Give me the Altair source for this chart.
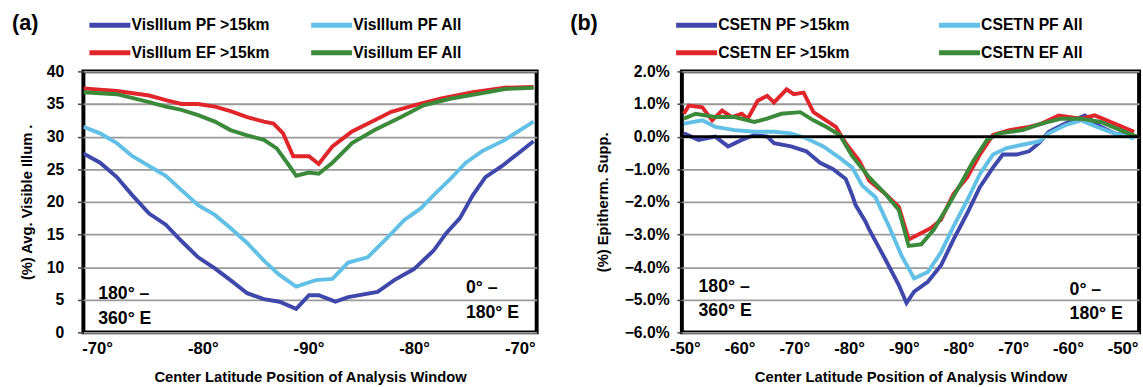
import altair as alt
import pandas as pd

FONT = "Liberation Sans, Arial, sans-serif"

# ---------------- Panel (a) : Visible illumination ----------------
a_series = ["VisIllum PF >15km", "VisIllum PF All", "VisIllum EF >15km", "Visillum  EF All"]
a_colors = ["#3f48aa", "#62c0e6", "#e0262a", "#3a8a3a"]

# x position along analysis window: 0 = -70°, 20 = -90°, 40 = -70° (other hemisphere)
a_pf15_u = [-1.3, 0.28, 1.86, 3.34, 4.92, 6.5, 7.98, 9.56, 11.14, 12.62, 14.2, 15.78, 17.26, 18.84,
            20.05, 20.97, 22.55, 23.76, 26.54, 28.12, 29.98, 31.83, 33.04, 34.34, 35.55, 36.75, 38.33, 39.9, 41.3]
a_pf15_v = [27.4, 26.0, 23.8, 21.0, 18.2, 16.5, 14.0, 11.5, 9.8, 8.0, 6.0, 5.1, 4.7, 3.6,
            5.7, 5.7, 4.7, 5.4, 6.2, 8.0, 9.7, 12.5, 15.2, 17.5, 21.0, 23.8, 25.5, 27.5, 29.3]

a_pfall_u = [-1.3, 0.28, 1.86, 3.34, 4.92, 6.5, 7.98, 9.56, 11.14, 12.62, 14.2, 15.78, 17.26, 18.84,
             20.7, 22.27, 23.76, 25.6, 27.47, 29.05, 30.63, 31.83, 33.41, 34.9, 36.47, 38.6, 41.3]
a_pfall_v = [31.5, 30.5, 29.0, 27.0, 25.5, 24.0, 21.8, 19.5, 18.0, 16.0, 13.7, 11.0, 8.8, 7.0,
             8.0, 8.2, 10.7, 11.5, 14.5, 17.2, 19.0, 21.0, 23.5, 26.0, 27.8, 29.5, 32.3]

a_ef15_u = [-1.3, 1.86, 4.92, 6.5, 7.98, 9.56, 11.14, 12.62, 14.2, 15.78, 16.7, 17.6, 18.56,
            20.05, 20.97, 22.27, 24.13, 26.26, 27.84, 29.98, 32.48, 35.55, 38.6, 41.3]
a_ef15_v = [37.4, 37.0, 36.3, 35.6, 35.0, 35.0, 34.6, 33.9, 33.0, 32.3, 32.0, 30.5, 27.0,
            27.0, 25.8, 28.5, 30.8, 32.5, 33.8, 34.8, 35.8, 36.8, 37.5, 37.6]

a_efall_u = [-1.3, 1.86, 4.92, 6.5, 7.98, 9.56, 11.14, 12.62, 14.2, 15.78, 17.0, 18.2, 18.84,
             20.05, 20.97, 22.27, 24.13, 26.26, 28.77, 30.9, 33.41, 36.2, 38.6, 41.3]
a_efall_v = [36.8, 36.5, 35.3, 34.6, 34.1, 33.3, 32.3, 31.0, 30.2, 29.5, 28.2, 25.5, 24.0,
             24.5, 24.3, 26.0, 29.0, 31.0, 33.0, 34.8, 35.8, 36.6, 37.3, 37.5]

a_note_text = ["180° –\n360° E", "0° –\n180° E"]
a_note_u = [0.1, 34.9]
a_note_v = [5.8, 6.75]

# ---------------- Panel (b) : Epithermal suppression ----------------
b_series = ["CSETN PF >15km", "CSETN PF All", "CSETN EF >15km", "CSETN EF All"]
b_colors = a_colors

# x position: 0 = -50°, 40 = -90°, 80 = -50°
b_pf15_u = [-0.18, 2.5, 5.56, 7.9, 10.4, 12.7, 15.05, 16.3, 19.4, 22.2, 24.7, 27.1, 29.4, 30.6, 31.2,
            33.0, 33.7, 36.6, 39.1, 40.5, 41.9, 44.4, 46.8, 49.1, 51.6, 53.9, 56.3, 58.1, 60.6,
            62.9, 64.7, 66.5, 69.5, 73.1, 76.0, 78.5, 82.1]
b_pf15_v = [0.1, -0.1, 0.0, -0.3, -0.1, 0.05, 0.0, -0.2, -0.3, -0.45, -0.8, -1.0, -1.3, -1.8, -2.1,
            -2.6, -2.85, -3.75, -4.55, -5.1, -4.75, -4.45, -3.95, -3.15, -2.35, -1.55, -0.95, -0.55, -0.55,
            -0.45, -0.2, 0.15, 0.4, 0.65, 0.3, 0.1, 0.0]

b_pfall_u = [-0.18, 3.2, 5.56, 9.1, 12.7, 16.3, 19.4, 22.2, 25.3, 28.3, 30.6, 32.4, 34.8, 37.3, 39.6,
             41.9, 44.4, 46.8, 49.1, 51.6, 53.9, 56.3, 58.8, 61.7, 64.7, 66.5, 69.5, 72.4, 76.0, 78.5, 82.1]
b_pfall_v = [0.4, 0.5, 0.3, 0.2, 0.15, 0.15, 0.1, -0.05, -0.3, -0.65, -0.95, -1.5, -1.85, -2.75, -3.65,
             -4.35, -4.15, -3.55, -2.75, -1.95, -1.15, -0.55, -0.35, -0.25, -0.15, 0.1, 0.35, 0.5, 0.25, 0.1, -0.05]

b_ef15_u = [-0.18, 0.72, 3.2, 5.0, 6.8, 8.6, 10.4, 11.5, 13.3, 15.05, 16.3, 18.6, 19.9, 21.7, 23.5,
            25.8, 27.6, 29.4, 31.9, 33.7, 36.6, 39.1, 40.9, 42.7, 45.0, 46.8, 49.1, 51.6, 53.9, 56.3,
            59.3, 62.9, 65.2, 68.3, 72.4, 74.9, 78.5, 82.1]
b_ef15_v = [0.7, 0.95, 0.9, 0.5, 0.8, 0.6, 0.7, 0.55, 1.1, 1.25, 1.05, 1.45, 1.3, 1.35, 0.75,
            0.5, 0.3, -0.2, -0.75, -1.35, -1.75, -2.15, -3.15, -3.0, -2.8, -2.55, -1.75, -1.25, -0.55, 0.05,
            0.2, 0.3, 0.4, 0.65, 0.55, 0.65, 0.4, 0.15]

b_efall_u = [-0.18, 1.97, 5.56, 9.1, 12.7, 15.05, 17.6, 21.1, 23.5, 25.8, 28.3, 30.6, 33.7, 36.6, 39.1,
             40.9, 43.2, 45.5, 48.0, 50.4, 52.7, 55.2, 57.5, 61.7, 65.2, 68.8, 72.4, 76.0, 79.6, 82.6]
b_efall_v = [0.55, 0.7, 0.6, 0.6, 0.45, 0.55, 0.7, 0.75, 0.5, 0.3, 0.05, -0.6, -1.25, -1.75, -2.25,
             -3.35, -3.3, -2.85, -2.15, -1.45, -0.75, -0.1, 0.1, 0.2, 0.4, 0.55, 0.55, 0.45, 0.2, 0.0]

b_zero_line = [0.0]

b_note_text = ["180° –\n360° E", "0° –\n180° E"]
b_note_u = [2.5, 70.3]
b_note_v = [-4.61, -4.7]


def long_frame(names, us, vs):
    rows = []
    for name, u, v in zip(names, us, vs):
        rows += [{"u": a, "v": b, "s": name} for a, b in zip(u, v)]
    return pd.DataFrame(rows)


a_df = long_frame(a_series, [a_pf15_u, a_pfall_u, a_ef15_u, a_efall_u],
                  [a_pf15_v, a_pfall_v, a_ef15_v, a_efall_v])
b_df = long_frame(b_series, [b_pf15_u, b_pfall_u, b_ef15_u, b_efall_u],
                  [b_pf15_v, b_pfall_v, b_ef15_v, b_efall_v])
a_notes = pd.DataFrame({"u": a_note_u, "v": a_note_v, "t": a_note_text})
b_notes = pd.DataFrame({"u": b_note_u, "v": b_note_v, "t": b_note_text})
b_zero_df = pd.DataFrame({"v": b_zero_line})

LEG_PATH = "M-4.5,0H4.5"


def legend(x, col_pad):
    return alt.Legend(title=None, orient="none", legendX=x, legendY=-55, columns=2, direction="horizontal",
                      symbolType=LEG_PATH, symbolSize=86, symbolStrokeWidth=5,
                      labelFont=FONT, labelFontSize=16, labelFontWeight="bold", labelColor="black",
                      labelOffset=14, columnPadding=col_pad, rowPadding=8, padding=0,
                      labelLimit=300)


xtitle = "Center Latitude Position of Analysis Window"
TITLE = dict(font=FONT, fontSize=22, fontWeight="bold", offset=-18, anchor="start", frame="bounds")

# ---- shared scales / axes for panel (a)
a_xs = alt.Scale(domain=[-1.3, 41.6], nice=False, zero=False)
a_ys = alt.Scale(domain=[0, 40], nice=False)
a_xa = alt.Axis(values=[0, 10, 20, 30, 40], grid=False, tickSize=0, labelPadding=9,
                labelExpr="'-' + (70 + (datum.value <= 20 ? datum.value : 40 - datum.value)) + '°'",
                title=xtitle, titlePadding=13)
a_ya = alt.Axis(values=[0, 5, 10, 15, 20, 25, 30, 35, 40], title="(%) Avg. Visible Illum .",
                titlePadding=12, tickSize=6, labelPadding=14, labelOverlap=False)

a_lines = alt.Chart(a_df).mark_line(strokeWidth=4, clip=True).encode(
    x=alt.X("u:Q", scale=a_xs, axis=a_xa),
    y=alt.Y("v:Q", scale=a_ys, axis=a_ya),
    color=alt.Color("s:N", scale=alt.Scale(domain=a_series, range=a_colors), legend=legend(19, 32)),
)
a_text = alt.Chart(a_notes).mark_text(align="left", baseline="middle", lineBreak="\n", lineHeight=25,
                                      font=FONT, fontSize=18, fontWeight="bold", color="black").encode(
    x=alt.X("u:Q", scale=a_xs, axis=a_xa),
    y=alt.Y("v:Q", scale=a_ys, axis=a_ya),
    text="t:N")

chart_a = alt.layer(a_lines, a_text).properties(
    width=462, height=266,
    title=alt.TitleParams("(a)", dx=-8, **TITLE),
)

# ---- shared scales / axes for panel (b)
b_xs = alt.Scale(domain=[-0.54, 83.0], nice=False, zero=False)
b_ys = alt.Scale(domain=[-6, 2], nice=False)
b_xa = alt.Axis(values=[0, 10, 20, 30, 40, 50, 60, 70, 80], grid=False, tickSize=0, labelPadding=9,
                labelExpr="'-' + (50 + (datum.value <= 40 ? datum.value : 80 - datum.value)) + '°'",
                title=xtitle, titlePadding=13)
b_ya = alt.Axis(values=[-6, -5, -4, -3, -2, -1, 0, 1, 2], title="(%) Epitherm. Supp.", titlePadding=14,
                tickSize=5, labelPadding=8, labelOverlap=False,
                labelExpr="format(datum.value, '.1f') + '%'")

b_lines = alt.Chart(b_df).mark_line(strokeWidth=4, clip=True).encode(
    x=alt.X("u:Q", scale=b_xs, axis=b_xa),
    y=alt.Y("v:Q", scale=b_ys, axis=b_ya),
    color=alt.Color("s:N", scale=alt.Scale(domain=b_series, range=b_colors), legend=legend(7, 81)),
)
b_zero = alt.Chart(b_zero_df).mark_rule(color="black", strokeWidth=3).encode(
    y=alt.Y("v:Q", scale=b_ys, axis=b_ya))
b_text = alt.Chart(b_notes).mark_text(align="left", baseline="middle", lineBreak="\n", lineHeight=25,
                                      font=FONT, fontSize=18, fontWeight="bold", color="black").encode(
    x=alt.X("u:Q", scale=b_xs, axis=b_xa),
    y=alt.Y("v:Q", scale=b_ys, axis=b_ya),
    text="t:N")

chart_b = alt.layer(b_lines, b_zero, b_text).properties(
    width=466, height=266,
    title=alt.TitleParams("(b)", dx=-26, **TITLE),
)

chart = alt.hconcat(chart_a, chart_b, spacing=30).resolve_scale(color="independent").resolve_legend(
    color="independent"
).properties(
    padding={"left": 10, "top": 7, "right": 0, "bottom": 0},
    background="white",
).configure_view(
    stroke="black", strokeWidth=4
).configure_axis(
    labelFont=FONT, labelFontSize=16, labelFontWeight="bold", labelColor="black",
    titleFont=FONT, titleFontSize=15, titleFontWeight="bold", titleColor="black",
    domain=False, tickColor="#444", tickWidth=1.5,
    gridColor="#9a9a9a", gridWidth=1.8,
).configure_axisX(labelFontSize=17)

chart.save("out.html", embed_options={"renderer": "svg", "actions": False})
